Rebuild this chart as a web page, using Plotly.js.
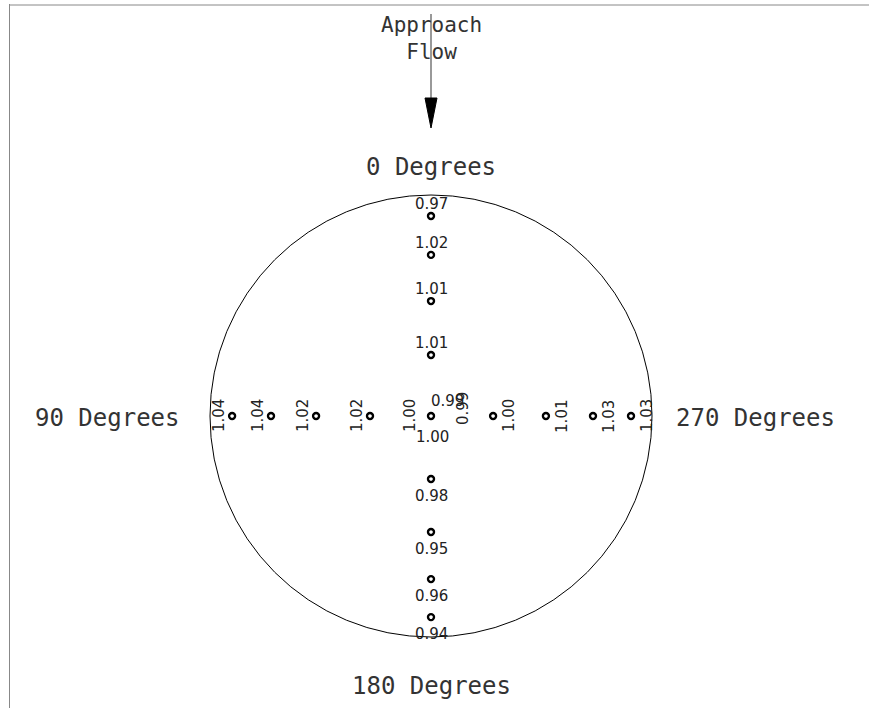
<!DOCTYPE html>
<html>
<head>
<meta charset="utf-8">
<script src="https://cdn.plot.ly/plotly-3.0.1.min.js"></script>
<style>html,body{margin:0;padding:0;background:#fff;}#chart{width:869px;height:708px;}</style>
</head>
<body>
<div id="chart"></div>
<script>
// Measurement positions along each arm (fraction of the circle radius from centre)
const topPos = [0.905, 0.729, 0.520, 0.276];
const topVals = [0.97, 1.02, 1.01, 1.01];
const bottomPos = [0.285, 0.525, 0.738, 0.910];
const bottomVals = [0.98, 0.95, 0.96, 0.94];
const leftPos = [0.900, 0.724, 0.520, 0.276];
const leftVals = [1.04, 1.04, 1.02, 1.02];
const rightPos = [0.281, 0.520, 0.733, 0.905];
const rightVals = [1.00, 1.01, 1.03, 1.03];
// Centre point readings: top, bottom, left, right
const centerVals = [0.99, 1.00, 1.00, 0.99];
const directionLabels = ['0 Degrees', '90 Degrees', '180 Degrees', '270 Degrees'];
const flowLabels = ['Approach', 'Flow'];

const W = 869, H = 708, cx = 431, cy = 416, R = 221;
const xr = [-cx / R, (W - cx) / R];
const yr = [-(H - cy) / R, cy / R];
const py = p => (cy - p) / R;
const pxx = p => (p - cx) / R;

const xs = [0], ys = [0];
topPos.forEach(p => { xs.push(0); ys.push(p); });
bottomPos.forEach(p => { xs.push(0); ys.push(-p); });
leftPos.forEach(p => { xs.push(-p); ys.push(0); });
rightPos.forEach(p => { xs.push(p); ys.push(0); });

const smallFont = {family: 'DejaVu Sans', size: 15, color: '#222'};
const bigFont = {family: 'DejaVu Sans Mono', size: 24, color: '#333'};
const ann = [];
function lab(x, y, v, opt) {
  ann.push(Object.assign({x: x, y: y, xref: 'x', yref: 'y', text: v.toFixed(2), showarrow: false,
    font: smallFont, xanchor: 'center', yanchor: 'middle'}, opt));
}
topPos.forEach((p, i) => lab(0, p, topVals[i], {yshift: 12}));
bottomPos.forEach((p, i) => lab(0, -p, bottomVals[i], {yshift: -17}));
leftPos.forEach((p, i) => lab(-p, 0, leftVals[i], {xshift: -13, textangle: -90}));
rightPos.forEach((p, i) => lab(p, 0, rightVals[i], {xshift: 16, textangle: -90}));
lab(0, 0, centerVals[0], {xshift: 16, yshift: 15});
lab(0, 0, centerVals[1], {xshift: 1, yshift: -21});
lab(0, 0, centerVals[2], {xshift: -21, textangle: -90});
lab(0, 0, centerVals[3], {xshift: 32, yshift: 7, textangle: -90});

ann.push({x: 0, y: py(167), text: directionLabels[0], showarrow: false, font: bigFont});
ann.push({x: pxx(107), y: py(418), text: directionLabels[1], showarrow: false, font: bigFont});
ann.push({x: 0, y: py(686), text: directionLabels[2], showarrow: false, font: bigFont});
ann.push({x: pxx(755), y: py(418), text: directionLabels[3], showarrow: false, font: bigFont});
ann.push({x: 0, y: py(38), text: flowLabels.join('<br>'), showarrow: false,
  font: {family: 'DejaVu Sans Mono', size: 21, color: '#333'}});

const shapes = [
  {type: 'circle', xref: 'x', yref: 'y', x0: -1, x1: 1, y0: -1, y1: 1, line: {color: '#000', width: 1}},
  {type: 'line', xref: 'x', yref: 'y', x0: 0, x1: 0, y0: py(14), y1: py(100), line: {color: '#555', width: 1.2}},
  {type: 'path', xref: 'x', yref: 'y', path: 'M ' + (-6 / R) + ' ' + py(98) + ' L ' + (6 / R) + ' ' + py(98) + ' L 0 ' + py(128) + ' Z',
    fillcolor: '#000', line: {color: '#000', width: 1}},
  {type: 'line', xref: 'paper', yref: 'paper', x0: 9.5 / W, x1: 9.5 / W, y0: 1 - 4 / H, y1: 0, line: {color: '#888', width: 1}},
  {type: 'line', xref: 'paper', yref: 'paper', x0: 9.5 / W, x1: 1, y0: 1 - 5 / H, y1: 1 - 5 / H, line: {color: '#888', width: 1}}
];

const trace = {x: xs, y: ys, type: 'scatter', mode: 'markers', hoverinfo: 'skip',
  marker: {symbol: 'circle-open', size: 6, color: '#000', line: {width: 2.4, color: '#000'}}};

Plotly.newPlot('chart', [trace], {
  width: W, height: H, margin: {l: 0, r: 0, t: 0, b: 0},
  paper_bgcolor: '#fff', plot_bgcolor: '#fff', showlegend: false,
  xaxis: {range: xr, visible: false, fixedrange: true},
  yaxis: {range: yr, visible: false, fixedrange: true},
  shapes: shapes, annotations: ann
}, {staticPlot: true});
</script>
</body>
</html>
